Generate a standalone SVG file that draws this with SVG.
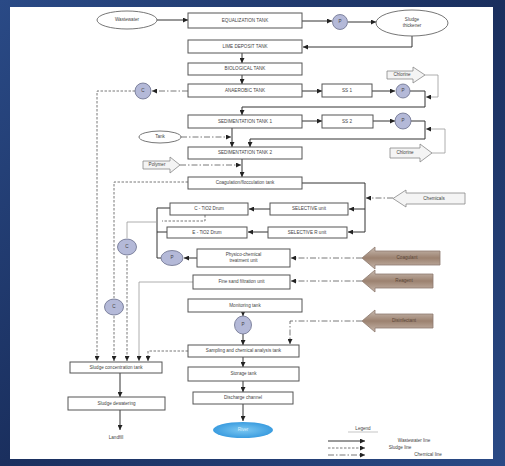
<svg xmlns="http://www.w3.org/2000/svg" width="505" height="466" viewBox="0 0 505 466">
<defs>
<linearGradient id="bg" x1="0" y1="0" x2="1" y2="1">
<stop offset="0" stop-color="#2a4a86"/><stop offset="0.5" stop-color="#1a2f5e"/><stop offset="1" stop-color="#2a4a86"/>
</linearGradient>
<linearGradient id="brown" x1="0" y1="0" x2="0" y2="1">
<stop offset="0" stop-color="#c9bcb2"/><stop offset="0.5" stop-color="#9c8270"/><stop offset="1" stop-color="#c6b6aa"/>
</linearGradient>
<radialGradient id="blue" cx="0.5" cy="0.5" r="0.6">
<stop offset="0" stop-color="#7cc8f2"/><stop offset="1" stop-color="#2e94dc"/>
</radialGradient>
<marker id="a" viewBox="0 0 6 6" refX="6" refY="3" markerWidth="5" markerHeight="5" markerUnits="userSpaceOnUse" orient="auto">
<path d="M0,0 L6,3 L0,6 z" fill="#222"/>
</marker>
<style>
.bx{fill:#fff;stroke:#555;stroke-width:1}
.el{fill:#fff;stroke:#666;stroke-width:0.9}
.pc{fill:#b4b9d8;stroke:#6a6f8c;stroke-width:0.8}
.pw{fill:#f4f4f4;stroke:#888;stroke-width:0.8}
.pb{fill:url(#brown);stroke:#8d7a6e;stroke-width:0.8}
.t{font-family:"Liberation Sans",Arial,sans-serif;font-size:4.6px;fill:#444;text-anchor:middle;dominant-baseline:middle}
.s{fill:none;stroke:#333;stroke-width:1}
.d{fill:none;stroke:#555;stroke-width:0.8;stroke-dasharray:2.5,1.5}
.dd{fill:none;stroke:#555;stroke-width:0.8;stroke-dasharray:6,2,1.5,2}
.g{fill:none;stroke:#999;stroke-width:0.8}
</style>
</defs>
<rect x="0" y="0" width="505" height="466" fill="url(#bg)"/>
<rect x="10" y="7" width="483" height="452" fill="#fff"/>

<g id="connectors">
<path class="s" d="M157,20 H188" marker-end="url(#a)"/>
<path class="s" d="M302,21 H332" marker-end="url(#a)"/>
<path class="s" d="M348,22 H376" marker-end="url(#a)"/>
<path class="s" d="M412,36 V47 H303" marker-end="url(#a)"/>
<path class="s" d="M242,53 V63" marker-end="url(#a)"/>
<path class="s" d="M242,75 V84" marker-end="url(#a)"/>
<path class="s" d="M302,91 H322" marker-end="url(#a)"/>
<path class="s" d="M372,91 H395" marker-end="url(#a)"/>
<path class="s" d="M410,91 H425 V107 H242 V115" marker-end="url(#a)"/>
<path class="g" d="M425,75 H438 V97 H426" marker-end="url(#a)"/>
<path class="s" d="M302,121 H322" marker-end="url(#a)"/>
<path class="s" d="M373,121 H395" marker-end="url(#a)"/>
<path class="s" d="M411,121 H425 V139 H250 V147" marker-end="url(#a)"/>
<path class="g" d="M432,153 H445 V129 H426" marker-end="url(#a)"/>
<path class="s" d="M232,128 V147" marker-end="url(#a)"/>
<path class="dd" d="M181,137 H231" marker-end="url(#a)"/>
<path class="dd" d="M180,165 H241" marker-end="url(#a)"/>
<path class="s" d="M242,159 V177" marker-end="url(#a)"/>
<path class="s" d="M302,183 H365 V232"/>
<path class="dd" d="M393,198 H366" marker-end="url(#a)"/>
<path class="s" d="M365,209 H349" marker-end="url(#a)"/>
<path class="s" d="M365,232 H348" marker-end="url(#a)"/>
<path class="s" d="M270,209 H249" marker-end="url(#a)"/>
<path class="s" d="M268,232 H248" marker-end="url(#a)"/>
<path class="s" d="M170,208 H157 V258 H161"/>
<path class="s" d="M167,232 H157"/>
<path class="d" d="M205,215 V221 H162"/>
<path class="s" d="M197,258 H184" marker-end="url(#a)"/>
<path class="dd" d="M362,258 H291" marker-end="url(#a)"/>
<path class="dd" d="M362,281 H291" marker-end="url(#a)"/>
<path class="s" d="M243,312 V316" marker-end="url(#a)"/>
<path class="s" d="M243,334 V345" marker-end="url(#a)"/>
<path class="dd" d="M362,321 H290 V344" marker-end="url(#a)"/>
<path class="s" d="M243,357 V367" marker-end="url(#a)"/>
<path class="s" d="M243,381 V392" marker-end="url(#a)"/>
<path class="s" d="M243,404 V421" marker-end="url(#a)"/>
<path class="s" d="M120,373 V397" marker-end="url(#a)"/>
<path class="s" d="M120,410 V430" marker-end="url(#a)"/>
<path class="dd" d="M188,91 H152" marker-end="url(#a)"/>
<path class="d" d="M135,91 H97 V361" marker-end="url(#a)"/>
<path class="d" d="M188,182 H114 V298"/>
<path class="d" d="M114,316 V361" marker-end="url(#a)"/>
<path class="g" d="M157,222 H127 V238"/>
<path class="d" d="M127,256 V361" marker-end="url(#a)"/>
<path class="g" d="M193,282 H139 V361" marker-end="url(#a)"/>
<path class="d" d="M188,351 H148 V361" marker-end="url(#a)"/>
</g>

<g id="n-wastewater"><ellipse class="el" cx="127" cy="20" rx="30" ry="9"/><text class="t" x="127" y="20">Wastewater</text></g>
<g id="n-equal"><rect class="bx" x="188" y="13" width="114" height="15"/><text class="t" x="245" y="20.5">EQUALIZATION TANK</text></g>
<g id="n-p1"><circle class="pc" cx="340" cy="22" r="7.5"/><text class="t" x="340" y="22">P</text></g>
<g id="n-sludge"><ellipse class="el" cx="412" cy="23" rx="36" ry="13"/><text class="t" x="412" y="20">Sludge</text><text class="t" x="412" y="26">thickener</text></g>
<g id="n-lime"><rect class="bx" x="188" y="40" width="114" height="13"/><text class="t" x="245" y="46.5">LIME DEPOSIT TANK</text></g>
<g id="n-bio"><rect class="bx" x="188" y="63" width="114" height="12"/><text class="t" x="245" y="69">BIOLOGICAL TANK</text></g>
<g id="n-anaer"><rect class="bx" x="188" y="84" width="114" height="13"/><text class="t" x="245" y="90.5">ANAEROBIC TANK</text></g>
<g id="n-ss1"><rect class="bx" x="322" y="84" width="50" height="13"/><text class="t" x="347" y="90.5">SS 1</text></g>
<g id="n-p2"><circle class="pc" cx="403" cy="91" r="7"/><text class="t" x="403" y="91">P</text></g>
<g id="n-chl1"><path class="pw" d="M387,71 H413 V67 L425,75 L413,83 V79 H387 z"/><text class="t" x="402" y="75">Chlorine</text></g>
<g id="n-c1"><circle class="pc" cx="143" cy="91" r="8"/><text class="t" x="143" y="91">C</text></g>
<g id="n-sed1"><rect class="bx" x="188" y="115" width="114" height="13"/><text class="t" x="245" y="121.5">SEDIMENTATION TANK 1</text></g>
<g id="n-ss2"><rect class="bx" x="322" y="115" width="51" height="13"/><text class="t" x="347" y="121.5">SS 2</text></g>
<g id="n-p3"><circle class="pc" cx="403" cy="121" r="8"/><text class="t" x="403" y="121">P</text></g>
<g id="n-chl2"><path class="pw" d="M390,148 H420 V144 L432,153 L420,162 V158 H390 z"/><text class="t" x="405" y="153">Chlorine</text></g>
<g id="n-tank"><ellipse class="el" cx="160" cy="137" rx="21" ry="6"/><text class="t" x="160" y="137">Tank</text></g>
<g id="n-sed2"><rect class="bx" x="188" y="147" width="114" height="12"/><text class="t" x="245" y="153">SEDIMENTATION TANK 2</text></g>
<g id="n-polymer"><path class="pw" d="M143,161 H170 V157 L180,165 L170,173 V169 H143 z"/><text class="t" x="157" y="165">Polymer</text></g>
<g id="n-coag"><rect class="bx" x="188" y="177" width="114" height="12"/><text class="t" x="245" y="183">Coagulation/flocculation tank</text></g>
<g id="n-chem"><path class="pw" d="M465,193 H406 V190 L393,198.5 L406,207 V204 H465 z"/><text class="t" x="434" y="198.5">Chemicals</text></g>
<g id="n-ctio2"><rect class="bx" x="170" y="203" width="78" height="12"/><text class="t" x="209" y="209">C - TiO2 Drum</text></g>
<g id="n-sel1"><rect class="bx" x="270" y="203" width="78" height="12"/><text class="t" x="309" y="209">SELECTIVE unit</text></g>
<g id="n-etio2"><rect class="bx" x="167" y="227" width="80" height="11"/><text class="t" x="207" y="232.5">E - TiO2 Drum</text></g>
<g id="n-sel2"><rect class="bx" x="268" y="227" width="79" height="11"/><text class="t" x="307" y="232.5">SELECTIVE R unit</text></g>
<g id="n-p4"><ellipse class="pc" cx="172" cy="258" rx="11" ry="7.5"/><text class="t" x="172" y="258">P</text></g>
<g id="n-c2"><ellipse class="pc" cx="127" cy="247" rx="9.5" ry="8"/><text class="t" x="127" y="247">C</text></g>
<g id="n-phys"><rect class="bx" x="197" y="249" width="93" height="18"/><text class="t" x="243.5" y="255">Physico-chemical</text><text class="t" x="243.5" y="261">treatment unit</text></g>
<g id="n-coagulant"><path class="pb" d="M440,251 H375 V247 L362,258 L375,269 V265 H440 z"/><text class="t" x="407" y="258" style="fill:#5a4638">Coagulant</text></g>
<g id="n-sand"><rect class="bx" x="193" y="275" width="97" height="14"/><text class="t" x="241.5" y="282">Fine sand filtration unit</text></g>
<g id="n-reagent"><path class="pb" d="M433,274 H375 V270 L362,281 L375,292 V288 H433 z"/><text class="t" x="404" y="281" style="fill:#5a4638">Reagent</text></g>
<g id="n-c3"><ellipse class="pc" cx="114" cy="307" rx="9.5" ry="8"/><text class="t" x="114" y="307">C</text></g>
<g id="n-monit"><rect class="bx" x="188" y="299" width="114" height="13"/><text class="t" x="245" y="305.5">Monitoring tank</text></g>
<g id="n-p5"><ellipse class="pc" cx="243" cy="325" rx="8.5" ry="9"/><text class="t" x="243" y="325">P</text></g>
<g id="n-disinf"><path class="pb" d="M433,314 H375 V310 L362,321 L375,332 V328 H433 z"/><text class="t" x="404" y="321" style="fill:#5a4638">Disinfectant</text></g>
<g id="n-sampling"><rect class="bx" x="188" y="345" width="111" height="12"/><text class="t" x="243.5" y="351">Sampling and chemical analysis tank</text></g>
<g id="n-storage"><rect class="bx" x="188" y="367" width="111" height="14"/><text class="t" x="243.5" y="374">Storage tank</text></g>
<g id="n-disch"><rect class="bx" x="193" y="392" width="100" height="12"/><text class="t" x="243" y="398">Discharge channel</text></g>
<g id="n-river"><ellipse cx="243" cy="430" rx="30" ry="8" fill="url(#blue)"/><text class="t" x="243" y="430" style="fill:#d8eefc">River</text></g>
<g id="n-sconc"><rect class="bx" x="70" y="362" width="92" height="11"/><text class="t" x="116" y="367.5">Sludge concentration tank</text></g>
<g id="n-sdew"><rect class="bx" x="68" y="397" width="97" height="13"/><text class="t" x="116.5" y="403.5">Sludge dewatering</text></g>
<g id="n-landfill"><text class="t" x="116" y="438">Landfill</text></g>

<g id="legend">
<text class="t" x="363" y="429">Legend</text>
<line x1="348" y1="432" x2="378" y2="432" stroke="#888" stroke-width="0.5"/>
<path class="s" d="M328,441 H365" marker-end="url(#a)"/>
<path class="d" d="M328,448 H365" marker-end="url(#a)"/>
<path class="dd" d="M328,455 H365" marker-end="url(#a)"/>
<text class="t" x="414" y="441">Wastewater line</text>
<text class="t" x="400" y="448">Sludge line</text>
<text class="t" x="428" y="455">Chemical line</text>
</g>
</svg>
